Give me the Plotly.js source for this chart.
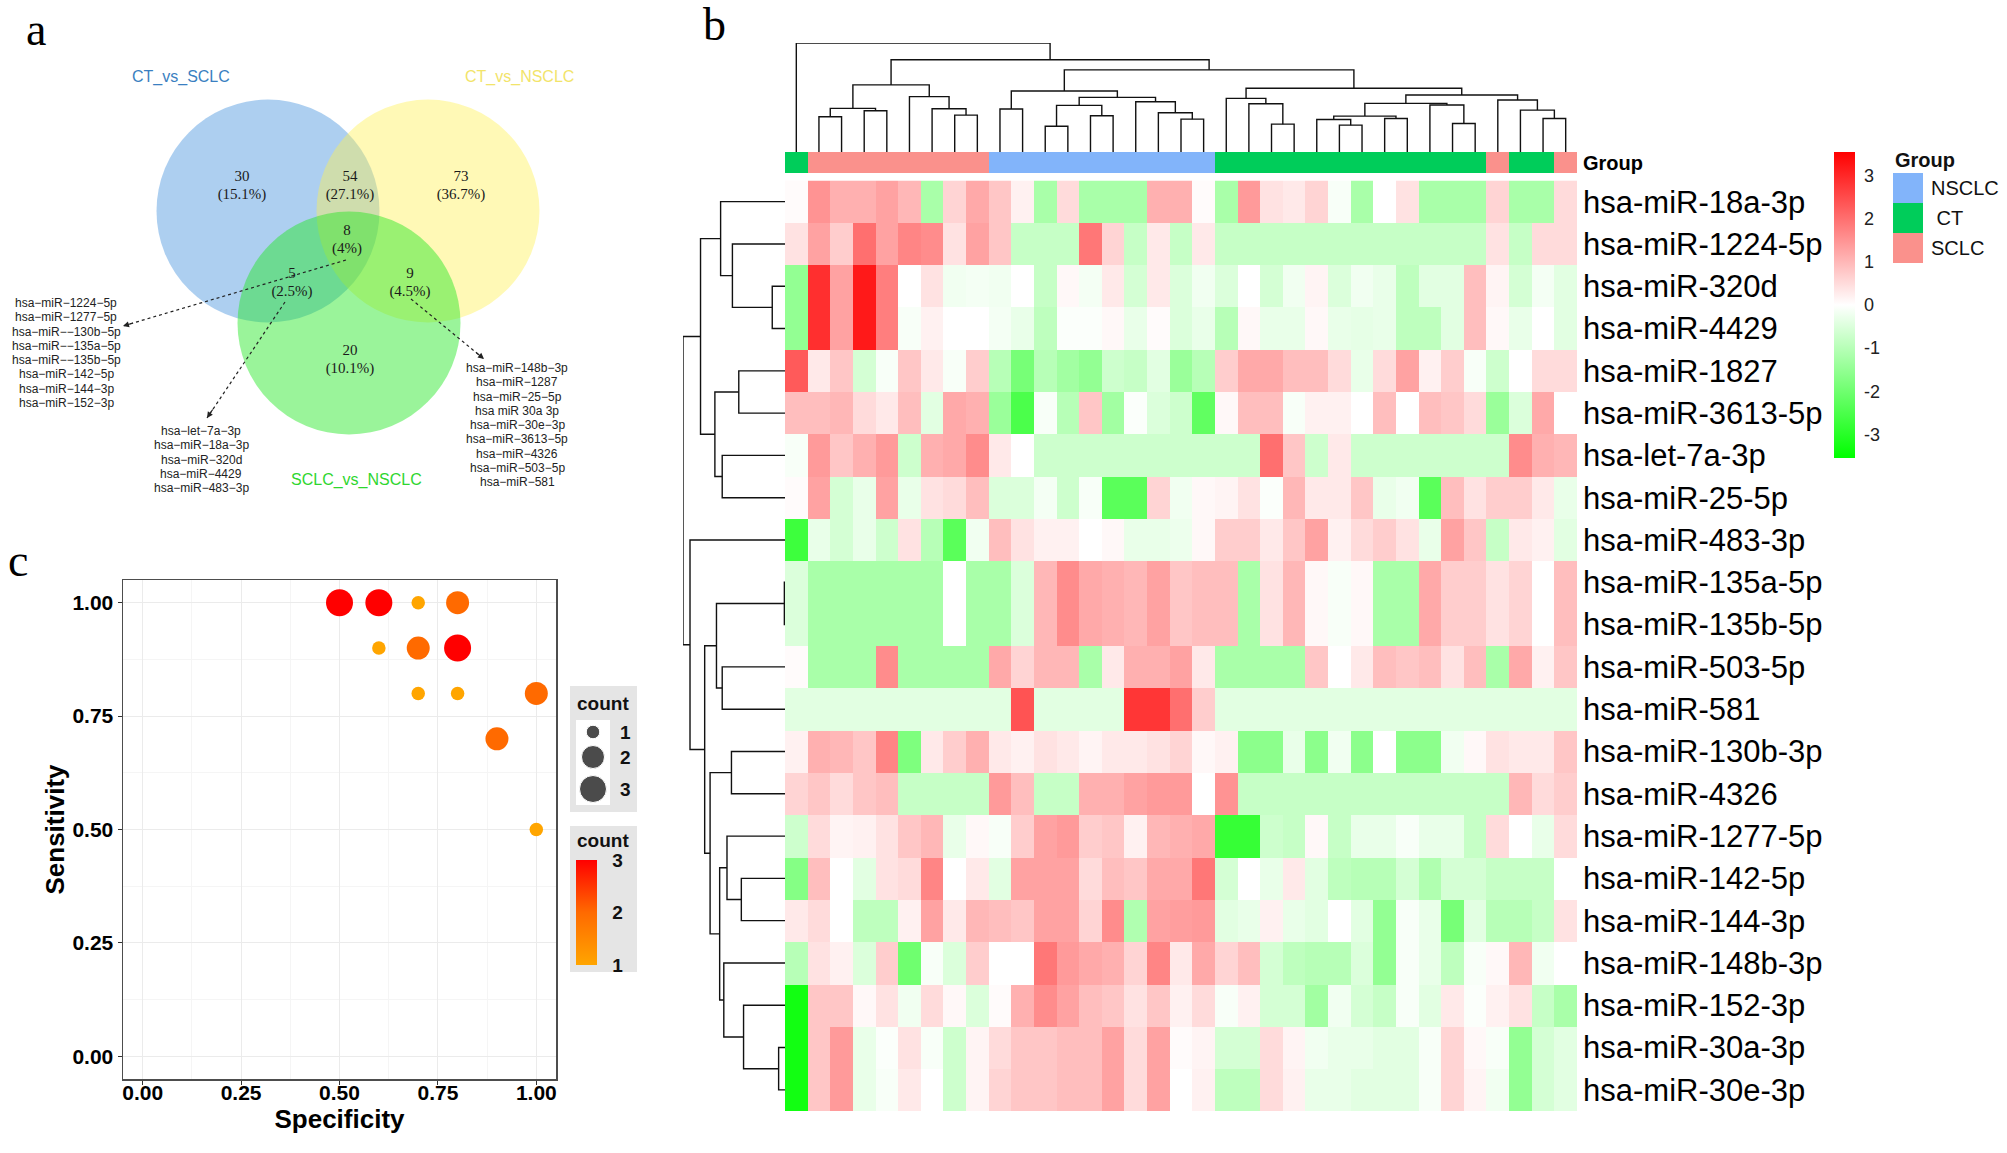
<!DOCTYPE html>
<html><head><meta charset="utf-8">
<script src="https://cdn.plot.ly/plotly-3.0.1.min.js"></script>
<style>html,body{margin:0;padding:0;background:#fff;}#chart{width:2007px;height:1153px;}</style>
</head><body><div id="chart"></div>
<script>
// ---------------- DATA ----------------
// Panel a: Venn counts
const vennSets = ['CT_vs_SCLC','CT_vs_NSCLC','SCLC_vs_NSCLC'];
const vennCounts = [30, 54, 73, 8, 5, 9, 20];
const vennPct = ['15.1%','27.1%','36.7%','4%','2.5%','4.5%','10.1%'];
const geneList8 = ['hsa-miR-1224-5p','hsa-miR-1277-5p','hsa-miR--130b-5p','hsa-miR--135a-5p','hsa-miR--135b-5p','hsa-miR-142-5p','hsa-miR-144-3p','hsa-miR-152-3p'];
const geneList5 = ['hsa-let-7a-3p','hsa-miR-18a-3p','hsa-miR-320d','hsa-miR-4429','hsa-miR-483-3p'];
const geneList9 = ['hsa-miR-148b-3p','hsa-miR-1287','hsa-miR-25-5p','hsa miR 30a 3p','hsa-miR-30e-3p','hsa-miR-3613-5p','hsa-miR-4326','hsa-miR-503-5p','hsa-miR-581'];

// Panel c: ROC summary points
const specificity = [0.5, 0.6, 0.7, 0.8, 0.6, 0.7, 0.8, 0.7, 0.8, 1.0, 0.9, 1.0];
const sensitivity = [1.0, 1.0, 1.0, 1.0, 0.9, 0.9, 0.9, 0.8, 0.8, 0.8, 0.7, 0.5];
const countVals   = [3, 3, 1, 2, 1, 2, 3, 1, 1, 2, 2, 1];
const countLevels = [1, 2, 3];
const axisTicks = [0, 0.25, 0.5, 0.75, 1.0];

// Panel b: heatmap
const groupNames = ['NSCLC','CT','SCLC'];
const sampleGroups = ['CT','SCLC','SCLC','SCLC','SCLC','SCLC','SCLC','SCLC','SCLC',
  'NSCLC','NSCLC','NSCLC','NSCLC','NSCLC','NSCLC','NSCLC','NSCLC','NSCLC','NSCLC',
  'CT','CT','CT','CT','CT','CT','CT','CT','CT','CT','CT','CT','SCLC','CT','CT','SCLC'];
const rowNames = ['hsa-miR-18a-3p','hsa-miR-1224-5p','hsa-miR-320d','hsa-miR-4429','hsa-miR-1827','hsa-miR-3613-5p','hsa-let-7a-3p','hsa-miR-25-5p','hsa-miR-483-3p','hsa-miR-135a-5p','hsa-miR-135b-5p','hsa-miR-503-5p','hsa-miR-581','hsa-miR-130b-3p','hsa-miR-4326','hsa-miR-1277-5p','hsa-miR-142-5p','hsa-miR-144-3p','hsa-miR-148b-3p','hsa-miR-152-3p','hsa-miR-30a-3p','hsa-miR-30e-3p'];

const miR_18a_3p  = [0.05,1.5,1.1,1.1,1.3,1.0,-1.2,0.6,1.2,0.8,0.2,-1.2,0.5,-1.2,-1.2,-1.2,1.1,1.1,0.05,-1.2,1.4,0.4,0.3,0.6,-0.1,-1.2,0,0.4,-1.2,-1.2,-1.2,0.6,-1.2,-1.2,0.5];
const miR_1224_5p = [0.4,1.3,0.7,2.0,1.3,1.7,1.6,0.4,1.3,0.8,-0.8,-0.8,-0.8,1.9,0.6,-0.8,0.3,-0.8,0.3,-0.8,-0.8,-0.8,-0.8,-0.8,-0.8,-0.8,-0.8,-0.8,-0.8,-0.8,-0.8,0.4,-0.8,0.5,0.5];
const miR_320d    = [-1.5,2.9,1.3,3.2,1.8,0,0.4,-0.2,-0.15,-0.2,0,-0.8,0.1,-0.15,0.3,-0.6,0.3,-0.5,-0.2,-0.5,0,-0.6,-0.2,0.15,-0.5,-0.2,-0.3,-0.9,-0.4,-0.4,0.9,0.15,-0.6,-0.15,-0.4];
const miR_4429    = [-1.5,2.9,1.3,3.2,1.8,-0.1,0.2,0,0,-0.15,-0.3,-0.9,-0.05,-0.05,0.1,-0.3,0.05,-0.5,-0.3,-1.0,0.1,-0.3,-0.3,0.1,-0.3,-0.35,-0.3,-0.9,-0.9,-0.4,0.9,0.1,-0.3,0,-0.4];
const miR_1827    = [2.3,0.3,0.8,-0.6,-0.1,0.8,0.3,-0.1,0.7,-1.0,-1.9,-1.0,-1.3,-1.5,-0.7,-0.8,-0.4,-1.4,-1.0,0.7,1.2,1.2,0.9,0.9,0.5,-0.3,0.5,1.3,0.2,0.7,-0.1,-0.7,0,0.5,0.5];
const miR_3613_5p = [0.9,0.9,1.0,0.5,0.3,0.9,-0.4,1.2,1.1,-1.4,-2.5,-0.1,-1.0,0.8,-1.3,-0.05,-0.5,-0.7,-2.2,0.1,0.9,0.9,-0.1,0.2,0.2,0,0.9,0,0.9,0.8,0.5,-1.4,-0.5,1.2,0];
const let_7a_3p   = [-0.1,1.4,0.8,1.1,1.4,-0.7,1.1,1.2,1.6,0.3,0,-0.7,-0.7,-0.7,-0.7,-0.7,-0.7,-0.7,-0.7,-0.7,-0.7,2.0,0.8,-0.7,0.3,-0.7,-0.7,-0.7,-0.7,-0.7,-0.7,-0.7,1.6,1.1,1.0];
const miR_25_5p   = [0.05,1.3,-0.6,-0.3,1.3,-0.3,0.4,0.5,0.9,-0.5,-0.5,-0.15,-0.7,-0.1,-2.3,-2.3,0.6,-0.2,0.1,0.15,0.4,-0.05,1.0,0.3,0.3,0.8,-0.3,-0.2,-2.3,0.9,0.4,0.7,0.7,0.3,-0.3];
const miR_483_3p  = [-2.7,-0.3,-0.6,-0.3,-0.7,0.4,-1.0,-2.3,-0.2,0.9,0.4,0.2,0.2,0,0.1,-0.3,-0.3,-0.25,0.1,0.7,0.7,0.3,0.8,1.3,0.2,0.5,0.7,0.4,-0.3,1.3,0.8,-0.8,0.3,0.2,-0.4];
const miR_135a_5p = [-0.5,-1.2,-1.2,-1.2,-1.2,-1.2,-1.2,0,-1.2,-1.2,-0.5,1.0,1.6,1.2,1.1,1.0,1.3,0.8,0.9,0.9,-1.2,0.4,1.0,0.1,-0.1,0.1,-1.2,-1.2,1.2,0.7,0.7,0.4,0.6,0,0.9];
const miR_135b_5p = [-0.5,-1.2,-1.2,-1.2,-1.2,-1.2,-1.2,0,-1.2,-1.2,-0.5,1.0,1.6,1.2,1.1,1.0,1.3,0.8,0.9,0.9,-1.2,0.4,1.0,0.1,-0.1,0.1,-1.2,-1.2,1.2,0.7,0.7,0.4,0.6,0,0.9];
const miR_503_5p  = [0.05,-1.2,-1.2,-1.2,1.6,-1.2,-1.2,-1.2,-1.2,1.2,0.6,1.0,1.0,-1.2,0.3,1.1,1.1,1.3,0.3,-1.2,-1.2,-1.2,-1.2,0.8,0,0.3,0.9,0.8,0.9,0.4,0.9,-1.2,1.2,0.2,0.8];
const miR_581     = [-0.4,-0.4,-0.4,-0.4,-0.4,-0.4,-0.4,-0.4,-0.4,-0.4,2.4,-0.4,-0.4,-0.4,-0.4,2.8,2.8,2.0,0.7,-0.4,-0.4,-0.4,-0.4,-0.4,-0.4,-0.4,-0.4,-0.4,-0.4,-0.4,-0.4,-0.4,-0.4,-0.4,-0.4];
const miR_130b_3p = [0.2,1.1,1.0,0.8,1.7,-1.8,0.3,0.7,1.1,0.3,0.2,0.4,0.3,0.15,0.3,0.3,0.4,0.6,0.1,0.2,-1.6,-1.6,-0.3,-1.6,-0.2,-1.6,0,-1.6,-1.6,-0.2,0.1,0.4,0.3,0.3,0.8];
const miR_4326    = [0.6,0.8,0.5,0.8,0.9,-0.8,-0.8,-0.8,-0.8,1.4,0.9,-0.8,-0.8,1.1,1.1,1.3,1.4,1.4,0,1.5,-0.8,-0.8,-0.8,-0.8,-0.8,-0.8,-0.8,-0.8,-0.8,-0.8,-0.8,-0.8,1.0,0.5,0.7];
const miR_1277_5p = [-0.7,0.5,0.15,0.2,0.4,0.8,1.0,-0.3,0.1,-0.1,0.7,1.3,1.4,0.7,0.8,0.2,1.0,1.1,1.2,-2.8,-2.8,-0.7,-0.8,0.1,-0.8,-0.3,-0.3,-0.1,-0.3,-0.3,-0.8,0.5,0,-0.3,0.5];
const miR_142_5p  = [-1.7,0.9,0,-0.4,0.4,0.5,1.7,0,0.3,-0.4,1.3,1.3,1.3,0.5,0.9,0.8,1.2,1.2,1.9,-0.6,0,-0.3,0.3,-0.4,-0.9,-1.0,-1.0,-0.6,-1.1,-0.6,-0.6,-0.8,-0.8,-0.8,0];
const miR_144_3p  = [0.3,0.5,0,-0.9,-0.9,0.2,1.3,0.3,1.0,0.9,0.8,1.3,1.3,0.6,1.6,-1.1,1.3,1.35,1.4,-0.4,-0.3,0.2,-0.3,-0.4,0,-0.4,-1.5,-0.1,-0.3,-1.9,-0.4,-1.0,-1.0,-0.8,0.4];
const miR_148b_3p = [-1.0,0.4,0.2,-0.5,0.7,-2.0,-0.1,-0.5,0.7,0,0,1.9,1.4,1.2,1.1,0.6,1.7,0.3,1.2,0.6,0.9,-0.6,-0.9,-1.0,-1.0,-0.5,-1.5,-0.1,-0.3,-0.9,-0.1,0.1,1.0,-0.2,0];
const miR_152_3p  = [-3.3,0.8,0.8,0.1,0.4,-0.2,0.5,0.1,-0.5,0.05,1.1,1.6,1.3,0.9,0.8,0.4,0.8,0.2,0.5,-0.1,0.2,-0.6,-0.6,-1.3,-0.2,-0.6,-0.8,-0.1,-0.4,0.3,-0.05,0.2,0.4,-0.8,-1.2];
const miR_30a_3p  = [-3.3,0.8,1.4,-0.3,-0.05,0.4,-0.1,-0.7,0.15,0.5,0.8,0.8,0.9,0.9,1.3,0.5,1.3,0.05,0.15,-0.6,-0.6,0.5,0.15,-0.2,-0.3,-0.3,-0.4,-0.4,-0.1,0.6,0.1,-0.1,-1.5,-0.6,-0.4];
const miR_30e_3p  = [-3.3,0.8,1.4,-0.3,-0.1,0.3,0,-0.7,0.15,0.6,0.8,0.8,0.9,0.9,1.3,0.5,1.3,0,0.2,-0.9,-0.9,0.5,0.2,-0.3,-0.3,-0.4,-0.4,-0.4,-0.1,0.6,0.15,-0.2,-1.5,-0.6,-0.4];
const colorTicks = [-3,-2,-1,0,1,2,3];

// Dendrogram merges: [childA, childB, height]; negative = leaf (display order, 1-based), positive = earlier merge
const colMerges = [
 [-2,-3,105],[-4,-5,123],[1,2,130],[-8,-9,110],[-7,4,129],[-6,5,165],[3,6,200],
 [-10,-11,128],[-12,-13,77],[-14,-15,108],[9,10,139],[-18,-19,98],[-17,12,117],[-16,13,150],[11,14,163],[8,15,182],
 [-22,-23,83],[-21,17,144],[-20,18,160],[-25,-26,80],[-24,20,97],[-27,-28,100],[21,22,107],[-30,-31,85],[-29,24,140],
 [23,25,145],[-34,-35,100],[-33,27,125],[-32,28,155],[26,29,170],[19,30,190],[16,31,245],[7,32,275],[-1,33,325]];
const rowMerges = [
 [-3,-4,40],[-2,1,165],[-1,2,202],[-5,-6,145],[-7,-8,197],[4,5,220],[3,6,265],
 [-10,-11,2],[-12,-13,197],[8,9,215],[-14,-15,168],[-17,-18,137],[-16,12,182],
 [-21,-22,20],[-20,14,130],[-19,15,192],[13,16,205],[11,17,235],[10,18,252],[-9,19,298],[7,20,320]];

// ---------------- STYLE / LAYOUT CONSTANTS ----------------
const W = 2007, H = 1153;
const px = v => v / W, py = v => 1 - v / H;
const SANS = 'Liberation Sans, Arial, sans-serif';
const SERIF = 'Liberation Serif, Times New Roman, serif';
const groupColors = {NSCLC:'#82B4FA', CT:'#00CD5A', SCLC:'#FA918C'};
const sizeMap = {1:13.5, 2:23, 3:27};
const countScale = [[0,'#FFA500'],[0.5,'#FF6A00'],[1,'#FF0000']];

const heatZ = [miR_18a_3p,miR_1224_5p,miR_320d,miR_4429,miR_1827,miR_3613_5p,let_7a_3p,miR_25_5p,miR_483_3p,
  miR_135a_5p,miR_135b_5p,miR_503_5p,miR_581,miR_130b_3p,miR_4326,miR_1277_5p,miR_142_5p,miR_144_3p,
  miR_148b_3p,miR_152_3p,miR_30a_3p,miR_30e_3p];
const colIdx = sampleGroups.map((_, i) => i);
const rowIdx = rowNames.map((_, i) => i);

function dendro(merges) {
  const P = [], Hm = [], a = [], b = [];
  merges.forEach(([c1, c2, h]) => {
    const p1 = c1 < 0 ? -c1 - 1 : P[c1 - 1], h1 = c1 < 0 ? 0 : Hm[c1 - 1];
    const p2 = c2 < 0 ? -c2 - 1 : P[c2 - 1], h2 = c2 < 0 ? 0 : Hm[c2 - 1];
    a.push(p1, p1, p2, p2, null); b.push(h1, h, h, h2, null);
    P.push((p1 + p2) / 2); Hm.push(h);
  });
  return {pos: a, ht: b};
}
const cd = dendro(colMerges), rd = dendro(rowMerges);

const traces = [];
// heatmap
traces.push({type:'heatmap', x: colIdx, y: rowIdx, z: heatZ, xaxis:'x2', yaxis:'y2',
  zmin:-3.55, zmax:3.55, colorscale:[[0,'#00FF00'],[0.5,'#FFFFFF'],[1,'#FF0000']], hoverinfo:'skip',
  colorbar:{x:px(1834), xanchor:'left', xpad:0, ypad:0, thickness:21, thicknessmode:'pixels',
    len:306, lenmode:'pixels', y:py(305), yanchor:'middle', tickmode:'array', tickvals:colorTicks,
    ticktext:colorTicks.map(String), ticks:'outside', ticklen:6,
    tickcolor:'rgba(0,0,0,0)', outlinewidth:0, tickfont:{family:SANS, size:18, color:'#222'}}});
// group bar
const gcode = sampleGroups.map(g => groupNames.indexOf(g));
traces.push({type:'heatmap', x: colIdx, y:[0], z:[gcode], xaxis:'x2', yaxis:'y3', zmin:0, zmax:2, showscale:false,
  hoverinfo:'skip',
  colorscale:[[0,groupColors.NSCLC],[0.3333,groupColors.NSCLC],[0.3333,groupColors.CT],[0.6667,groupColors.CT],[0.6667,groupColors.SCLC],[1,groupColors.SCLC]]});
// dendrograms
traces.push({type:'scatter', mode:'lines', x: cd.pos, y: cd.ht, xaxis:'x2', yaxis:'y4',
  line:{color:'#111', width:1.4}, hoverinfo:'skip', cliponaxis:false});
traces.push({type:'scatter', mode:'lines', x: rd.ht, y: rd.pos, xaxis:'x5', yaxis:'y2',
  line:{color:'#111', width:1.4}, hoverinfo:'skip', cliponaxis:false});
// scatter panel c
traces.push({type:'scatter', mode:'markers', x: specificity, y: sensitivity, xaxis:'x', yaxis:'y',
  marker:{size: countVals.map(c => sizeMap[c]), color: countVals, cmin:1, cmax:3, colorscale: countScale,
    line:{width:0}, opacity:1,
    colorbar:{x:px(576), xanchor:'left', xpad:0, ypad:0, thickness:21, thicknessmode:'pixels',
      len:105, lenmode:'pixels', y:py(912.5), yanchor:'middle', tickvals:countLevels, ticks:'outside',
      ticklen:12, tickcolor:'rgba(0,0,0,0)', outlinewidth:0, bgcolor:'rgba(0,0,0,0)',
      tickfont:{family:SANS, size:19, color:'#111', weight:'bold'}}},
  hoverinfo:'skip', cliponaxis:false});
// size legend keys
const keyY = [732, 757, 789];
traces.push({type:'scatter', mode:'markers', x: countLevels.map(() => 593), y: keyY, xaxis:'x7', yaxis:'y7',
  marker:{size: countLevels.map(c => sizeMap[c]), color:'#000'}, hoverinfo:'skip', cliponaxis:false});
// Venn labels
const vennX = [242, 350, 461, 347, 292, 410, 350];
const vennY = [177, 177, 177, 231, 274, 274, 351];
traces.push({type:'scatter', mode:'text', x: vennX, y: vennY, text: vennCounts.map(String), xaxis:'x6', yaxis:'y6',
  textfont:{family:SERIF, size:15, color:'#1a1a1a'}, hoverinfo:'skip', cliponaxis:false});
traces.push({type:'scatter', mode:'text', x: vennX, y: vennY.map(v => v + 18), text: vennPct.map(p => '(' + p + ')'),
  xaxis:'x6', yaxis:'y6', textfont:{family:SERIF, size:15, color:'#1a1a1a'}, hoverinfo:'skip', cliponaxis:false});

// shapes
const shapes = [];
const circ = [[268,211,'#3C8CDC',0.42],[428,211,'#FFF050',0.42],[349,323,'#1EE61E',0.45]];
circ.forEach(([cx, cy, col, op]) => shapes.push({type:'circle', xref:'x6', yref:'y6', x0:cx-111.5, x1:cx+111.5,
  y0:cy-111.5, y1:cy+111.5, fillcolor:col, opacity:op, line:{width:0}, layer:'below'}));
const arrows = [[346,260,123,326],[285,302,207,418],[411,299,484,359]];
arrows.forEach(([x0,y0,x1,y1]) => shapes.push({type:'line', xref:'x6', yref:'y6', x0, y0, x1, y1,
  line:{color:'#222', width:1.2, dash:'dot'}}));
// legend boxes for panel c
shapes.push({type:'rect', xref:'paper', yref:'paper', x0:px(570), x1:px(637), y0:py(812), y1:py(686), fillcolor:'#E5E5E5', line:{width:0}, layer:'below'});
shapes.push({type:'rect', xref:'paper', yref:'paper', x0:px(576), x1:px(610), y0:py(805), y1:py(720), fillcolor:'#FFFFFF', line:{width:0}, layer:'below'});
shapes.push({type:'rect', xref:'paper', yref:'paper', x0:px(570), x1:px(637), y0:py(972), y1:py(826), fillcolor:'#E5E5E5', line:{width:0}, layer:'below'});
// group legend boxes
groupNames.forEach((g, i) => shapes.push({type:'rect', xref:'paper', yref:'paper', x0:px(1893), x1:px(1923),
  y0:py(203 + 30*i), y1:py(173 + 30*i), fillcolor:groupColors[g], line:{width:0}}));

// annotations
const ann = [];
const A = (text, x, y, font, extra) => ann.push(Object.assign({text, x:px(x), y:py(y), xref:'paper', yref:'paper',
  showarrow:false, font, xanchor:'center', yanchor:'middle'}, extra || {}));
A('a', 36, 30, {family:SERIF, size:46, color:'#000'});
A('b', 714, 24, {family:SERIF, size:46, color:'#000'});
A('c', 18, 560, {family:SERIF, size:46, color:'#000'});
A(vennSets[0], 181, 77, {family:SANS, size:16, color:'#3A7FC1'});
A(vennSets[1], 519, 77, {family:SANS, size:16, color:'#F2E46A'});
A(vennSets[2], 356, 480, {family:SANS, size:16, color:'#2FD62F'});
const listFont = {family:SANS, size:12, color:'#222'};
const fmt = s => s.replace(/-/g, '\u2212');
geneList8.forEach((g, i) => A(fmt(g), 66, 303 + 14.3*i, listFont));
geneList5.forEach((g, i) => A(fmt(g), 201, 431 + 14.3*i, listFont));
geneList9.forEach((g, i) => A(fmt(g), 517, 368 + 14.3*i, listFont));
arrows.forEach(([x0,y0,x1,y1]) => {
  const d = Math.hypot(x1-x0, y1-y0), ux = (x1-x0)/d, uy = (y1-y0)/d;
  ann.push({xref:'x6', yref:'y6', axref:'x6', ayref:'y6', x:x1, y:y1, ax:x1-ux*12, ay:y1-uy*12, text:'',
    showarrow:true, arrowhead:2, arrowsize:1, arrowwidth:1.2, arrowcolor:'#222'});
});
const bold19 = {family:SANS, size:19, color:'#111', weight:'bold'};
A('count', 603, 703, bold19);
A('count', 603, 840, bold19);
countLevels.forEach((c, i) => A(String(c), 625, keyY[i], bold19));
A('Group', 1893, 160, {family:SANS, size:20, color:'#111', weight:'bold'}, {xanchor:'left'});
const gLab = {NSCLC:'NSCLC', CT:' CT', SCLC:'SCLC'};
groupNames.forEach((g, i) => A(gLab[g], 1929, 188 + 30*i, {family:SANS, size:20, color:'#111'}, {xanchor:'left'}));

const tickFontC = {family:SANS, size:21, color:'#000', weight:'bold'};
const hidden = {visible:false, showgrid:false, zeroline:false, fixedrange:true};
const layout = {
  width:W, height:H, margin:{l:0, r:0, t:0, b:0}, paper_bgcolor:'#FFFFFF', plot_bgcolor:'rgba(0,0,0,0)',
  showlegend:false, shapes, annotations: ann,
  xaxis:{domain:[px(123), px(556)], range:[-0.05,1.05], anchor:'y', tickmode:'array', tickvals:axisTicks,
    ticktext:axisTicks.map(v => v.toFixed(2)), ticks:'outside', ticklen:4, tickcolor:'#333', tickfont:tickFontC,
    ticklabelstandoff:-10,
    showgrid:true, gridcolor:'#EBEBEB', gridwidth:1, zeroline:false, showline:true, mirror:true, linecolor:'#4D4D4D', linewidth:1.5,
    minor:{tickmode:'array', tickvals:[0.125,0.375,0.625,0.875], showgrid:true, gridcolor:'#F5F5F5', ticks:''},
    title:{text:'Specificity', font:{family:SANS, size:26, color:'#000', weight:'bold'}, standoff:4}},
  yaxis:{domain:[py(1079), py(580)], range:[-0.05,1.05], anchor:'x', tickmode:'array', tickvals:axisTicks,
    ticktext:axisTicks.map(v => v.toFixed(2)), ticks:'outside', ticklen:4, tickcolor:'#333', tickfont:tickFontC,
    showgrid:true, gridcolor:'#EBEBEB', gridwidth:1, zeroline:false, showline:true, mirror:true, linecolor:'#4D4D4D', linewidth:1.5,
    minor:{tickmode:'array', tickvals:[0.125,0.375,0.625,0.875], showgrid:true, gridcolor:'#F5F5F5', ticks:''},
    title:{text:'Sensitivity', font:{family:SANS, size:26, color:'#000', weight:'bold'}, standoff:0}},
  xaxis2:Object.assign({domain:[px(785), px(1577)], range:[-0.5, 34.5], anchor:'y2'}, hidden),
  yaxis2:{domain:[py(1111), py(180.5)], range:[21.5, -0.5], anchor:'x2', side:'right', tickmode:'array',
    tickvals:rowIdx, ticktext:rowNames, ticks:'', ticklabelstandoff:5, showgrid:false, zeroline:false, showline:false, fixedrange:true,
    tickfont:{family:SANS, size:31, color:'#000'}},
  yaxis3:{domain:[py(173), py(152)], range:[-0.5, 0.5], anchor:'x2', side:'right', tickmode:'array', tickvals:[0],
    ticktext:['Group'], ticks:'', ticklabelstandoff:5, showgrid:false, zeroline:false, showline:false, fixedrange:true,
    tickfont:{family:SANS, size:20, color:'#000', weight:'bold'}},
  yaxis4:Object.assign({domain:[py(152), py(43)], range:[0, 325], anchor:'x2'}, hidden),
  xaxis5:Object.assign({domain:[px(683), px(785)], range:[320, 0], anchor:'y2'}, hidden),
  xaxis6:Object.assign({domain:[0, px(620)], range:[0, 620], anchor:'y6'}, hidden),
  yaxis6:Object.assign({domain:[py(520), 1], range:[520, 0], anchor:'x6'}, hidden),
  xaxis7:Object.assign({domain:[px(576), px(610)], range:[576, 610], anchor:'y7'}, hidden),
  yaxis7:Object.assign({domain:[py(805), py(720)], range:[805, 720], anchor:'x7'}, hidden)
};
Plotly.newPlot('chart', traces, layout, {staticPlot:true, displayModeBar:false});
</script></body></html>
